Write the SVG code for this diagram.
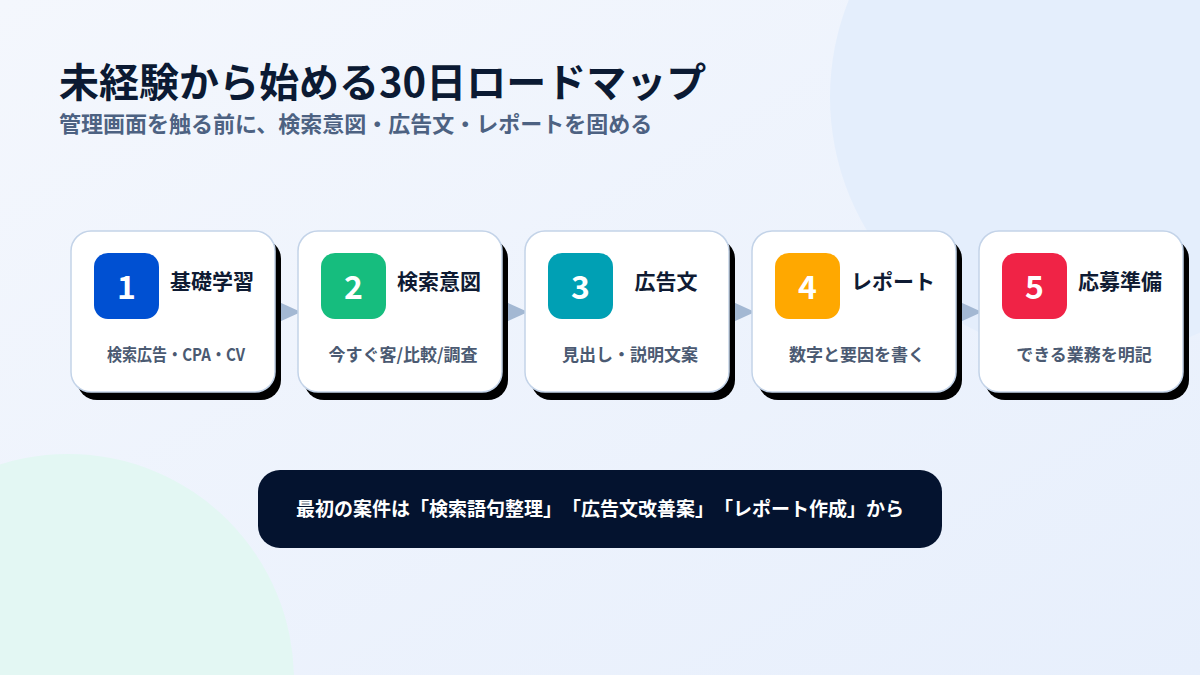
<svg xmlns="http://www.w3.org/2000/svg" width="1200" height="675" viewBox="0 0 1200 675">
<defs>
<linearGradient id="bg" x1="0" y1="0" x2="1" y2="1">
<stop offset="0" stop-color="#f4f7fd"/>
<stop offset="1" stop-color="#e7effc"/>
</linearGradient>
<style>
.jp{font-family:"Noto Sans CJK JP","Noto Sans",sans-serif;text-spacing-trim:space-all}
.card{fill:#ffffff;stroke:#c3d3e8;stroke-width:1.5}
.shadow{fill:#000000}
.badge-num{font-family:"Noto Sans CJK JP","Noto Sans",sans-serif;font-size:32px;font-weight:700;fill:#ffffff;text-anchor:middle}
.ctitle{font-family:"Noto Sans CJK JP",sans-serif;font-size:21px;font-weight:700;fill:#0f1b33;text-anchor:middle}
.csub{font-family:"Noto Sans CJK JP",sans-serif;font-size:17px;font-weight:700;fill:#4b5a72;text-anchor:middle}
.arrow{fill:#a3b8d3}
</style>
</defs>
<rect x="0" y="0" width="1200" height="675" fill="url(#bg)"/>
<circle cx="1090" cy="97" r="260" fill="#e4eefc"/>
<circle cx="68" cy="680" r="226" fill="#e3f7f3"/>

<g id="header">
<text class="jp" x="59" y="97" font-size="40" font-weight="700" fill="#0b1a33">未経験から始める30日ロードマップ</text>
<text class="jp" x="59" y="132" font-size="22" font-weight="700" fill="#4d6282">管理画面を触る前に、検索意図・広告文・レポートを固める</text>
</g>

<g id="connectors">
<polygon class="arrow" points="279,302 301,312 279,322"/>
<polygon class="arrow" points="506,302 528,312 506,322"/>
<polygon class="arrow" points="733,302 755,312 733,322"/>
<polygon class="arrow" points="960,302 982,312 960,322"/>
</g>

<g id="step1">
<rect class="shadow" x="77" y="239" width="204" height="161" rx="20"/>
<rect class="card" x="71" y="231" width="204" height="161" rx="20"/>
<rect x="94" y="253" width="65" height="66" rx="14" fill="#0050d2"/>
<text class="badge-num" x="126.5" y="299">1</text>
<text class="ctitle" x="212" y="289">基礎学習</text>
<text class="csub" x="176" y="361" textLength="138" lengthAdjust="spacingAndGlyphs">検索広告・CPA・CV</text>
</g>

<g id="step2">
<rect class="shadow" x="304" y="239" width="204" height="161" rx="20"/>
<rect class="card" x="298" y="231" width="204" height="161" rx="20"/>
<rect x="321" y="253" width="65" height="66" rx="14" fill="#16bd7e"/>
<text class="badge-num" x="353.5" y="299">2</text>
<text class="ctitle" x="439" y="289">検索意図</text>
<text class="csub" x="403" y="361">今すぐ客/比較/調査</text>
</g>

<g id="step3">
<rect class="shadow" x="531" y="239" width="204" height="161" rx="20"/>
<rect class="card" x="525" y="231" width="204" height="161" rx="20"/>
<rect x="548" y="253" width="65" height="66" rx="14" fill="#00a0b4"/>
<text class="badge-num" x="580.5" y="299">3</text>
<text class="ctitle" x="666" y="289">広告文</text>
<text class="csub" x="630" y="361">見出し・説明文案</text>
</g>

<g id="step4">
<rect class="shadow" x="758" y="239" width="204" height="161" rx="20"/>
<rect class="card" x="752" y="231" width="204" height="161" rx="20"/>
<rect x="775" y="253" width="65" height="66" rx="14" fill="#ffa800"/>
<text class="badge-num" x="807.5" y="299">4</text>
<text class="ctitle" x="893" y="289">レポート</text>
<text class="csub" x="857" y="361">数字と要因を書く</text>
</g>

<g id="step5">
<rect class="shadow" x="985" y="239" width="204" height="161" rx="20"/>
<rect class="card" x="979" y="231" width="204" height="161" rx="20"/>
<rect x="1002" y="253" width="65" height="66" rx="14" fill="#f02346"/>
<text class="badge-num" x="1034.5" y="299">5</text>
<text class="ctitle" x="1120" y="289">応募準備</text>
<text class="csub" x="1084" y="361">できる業務を明記</text>
</g>

<g id="banner">
<rect x="258" y="470" width="684" height="78" rx="22" fill="#04132f"/>
<text class="jp" x="600" y="516" font-size="19" font-weight="700" fill="#ffffff" text-anchor="middle">最初の案件は「検索語句整理」「広告文改善案」「レポート作成」から</text>
</g>
</svg>
